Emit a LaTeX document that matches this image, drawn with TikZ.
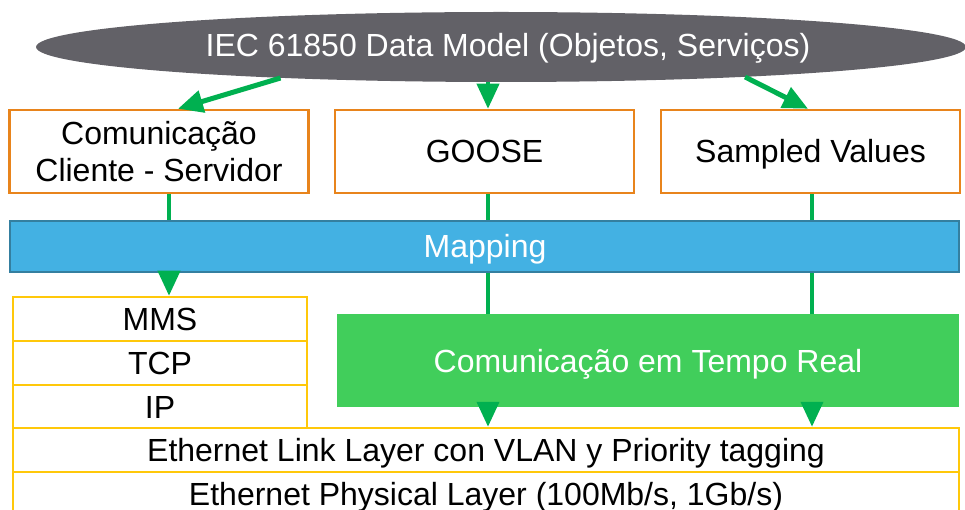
\documentclass[tikz,border=0pt]{standalone}
\usepackage{fontspec}
\setmainfont{Liberation Sans}
\usetikzlibrary{arrows.meta,shapes.geometric}
\definecolor{dmgray}{HTML}{626167}
\definecolor{orangeB}{HTML}{E8841C}
\definecolor{yellowB}{HTML}{FFC80A}
\definecolor{mapfill}{HTML}{43B1E3}
\definecolor{mapdraw}{HTML}{347FA0}
\definecolor{rtfill}{HTML}{41CE5B}
\definecolor{arrowG}{HTML}{00B050}
\newcommand{\bigfs}{\fontsize{32}{37}\selectfont}
\tikzset{
  obox/.style={draw=orangeB, line width=2.5pt, fill=white, minimum height=83pt, minimum width=299pt, inner sep=0pt, font=\bigfs, align=center},
  ybox/.style={draw=yellowB, line width=2.5pt, fill=white, inner sep=0pt, font=\bigfs, align=center},
  oneline/.style={text height=23pt, text depth=0pt},
  conn/.style={draw=arrowG, line width=4pt},
  arr/.style={conn, -{Triangle[length=25pt,width=22pt]}},
}
\begin{document}
\begin{tikzpicture}[x=1pt,y=-1pt]
\useasboundingbox (0,0) rectangle (965,510);
\clip (0,0) rectangle (965,510);

% data model ellipse
\node[ellipse, fill=dmgray, minimum width=930pt, minimum height=70pt, inner sep=0pt] (dm) at (501,47) {};
\node[text=white, font=\fontsize{32}{38}\selectfont, inner sep=0pt, oneline] (dmt) at (508,45.5) {IEC 61850 Data Model (Objetos, Serviços)};

% service boxes
\node[obox] (cs) at (159,151.5) {Comunicação\\Cliente - Servidor};
\node[obox, oneline] (go) at (484.5,151.5) {GOOSE};
\node[obox, oneline] (sv) at (810.5,151.5) {Sampled Values};

% mapping bar
\node[draw=mapdraw, fill=mapfill, line width=2pt, minimum width=949pt, minimum height=51pt,
      inner sep=0pt] (map) at (484.5,246.5) {};
\node[text=white, font=\bigfs, inner sep=0pt, oneline] (mapt) at (485,246.5) {Mapping};

% MMS / TCP / IP stack
\node[ybox, oneline, minimum width=294pt, minimum height=44pt] (mms) at (160,319) {MMS};
\node[ybox, oneline, minimum width=294pt, minimum height=44pt] (tcp) at (160,363) {TCP};
\node[ybox, oneline, minimum width=294pt, minimum height=43pt] (ip) at (160,406.5) {IP};

% real-time box
\node[fill=rtfill, oneline, minimum width=622pt, minimum height=93pt, inner sep=0pt,
      text=white, font=\bigfs] (rt) at (648,360.5) {Comunicação em Tempo Real};

% ethernet layers
\node[ybox, oneline, minimum width=946pt, minimum height=44pt] (link) at (486,450) {Ethernet Link Layer con VLAN y Priority tagging};
\node[ybox, oneline, minimum width=946pt, minimum height=44pt] (phy) at (486,494) {Ethernet Physical Layer (100Mb/s, 1Gb/s)};

% x positions of connectors
\coordinate (xl) at (178,0);
\coordinate (xc) at (169,0);
\coordinate (xg) at (488,0);
\coordinate (xs) at (812,0);
\coordinate (xr) at (808,0);

% arrows from data model
\draw[arr, line width=5pt] (dm.188) -- (cs.north -| xl);
\draw[arr] (dm.south -| xg) -- (go.north -| xg);
\draw[arr, line width=5pt] (dm.353) -- (sv.north -| xr);

% client-server path
\draw[conn] (cs.south -| xc) -- (map.north -| xc);
\draw[arr] (map.south -| xc) -- (mms.north -| xc);

% GOOSE path
\draw[conn] (go.south -| xg) -- (map.north -| xg);
\draw[conn] (map.south -| xg) -- (rt.north -| xg);
\draw[arr] (rt.south -| xg) -- (link.north -| xg);

% SV path
\draw[conn] (sv.south -| xs) -- (map.north -| xs);
\draw[conn] (map.south -| xs) -- (rt.north -| xs);
\draw[arr] (rt.south -| xs) -- (link.north -| xs);
\end{tikzpicture}
\end{document}
